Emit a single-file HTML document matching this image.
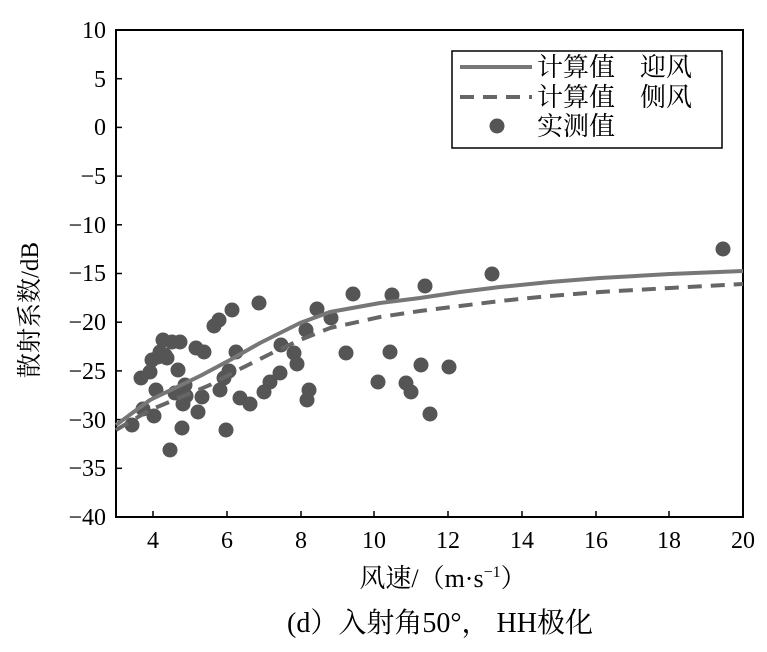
<!DOCTYPE html>
<html><head><meta charset="utf-8"><style>body{margin:0;background:#fff}</style></head><body>
<svg width="767" height="647" xmlns="http://www.w3.org/2000/svg" font-family="Liberation Serif, Noto Serif CJK SC, serif">
<rect width="767" height="647" fill="#fff"/>
<g stroke="#000" stroke-width="2" fill="none">
<rect x="116" y="30" width="627" height="487"/>
</g>
<g stroke="#000" stroke-width="1.5">
<line x1="116" y1="30" x2="122" y2="30"/><line x1="116" y1="78.7" x2="122" y2="78.7"/><line x1="116" y1="127.4" x2="122" y2="127.4"/><line x1="116" y1="176.1" x2="122" y2="176.1"/><line x1="116" y1="224.8" x2="122" y2="224.8"/><line x1="116" y1="273.5" x2="122" y2="273.5"/><line x1="116" y1="322.2" x2="122" y2="322.2"/><line x1="116" y1="370.9" x2="122" y2="370.9"/><line x1="116" y1="419.6" x2="122" y2="419.6"/><line x1="116" y1="468.3" x2="122" y2="468.3"/>
<line x1="153" y1="517" x2="153" y2="511"/><line x1="227" y1="517" x2="227" y2="511"/><line x1="301" y1="517" x2="301" y2="511"/><line x1="374" y1="517" x2="374" y2="511"/><line x1="448" y1="517" x2="448" y2="511"/><line x1="522" y1="517" x2="522" y2="511"/><line x1="596" y1="517" x2="596" y2="511"/><line x1="669" y1="517" x2="669" y2="511"/>
</g>
<g font-size="24" text-anchor="end" fill="#000">
<text x="106" y="38">10</text><text x="106" y="87">5</text><text x="106" y="135">0</text><text x="106" y="184">−5</text><text x="106" y="233">−10</text><text x="106" y="281">−15</text><text x="106" y="330">−20</text><text x="106" y="379">−25</text><text x="106" y="428">−30</text><text x="106" y="476">−35</text><text x="106" y="525">−40</text>
</g>
<g font-size="24" text-anchor="middle" fill="#000">
<text x="153" y="548">4</text><text x="227" y="548">6</text><text x="301" y="548">8</text><text x="374" y="548">10</text><text x="448" y="548">12</text><text x="522" y="548">14</text><text x="596" y="548">16</text><text x="669" y="548">18</text><text x="743" y="548">20</text>
<text x="443" y="587" font-size="26">风速/（m·s<tspan font-size="16" dy="-10">−1</tspan><tspan dy="10">）</tspan></text>
<text x="440" y="632" font-size="28">(d）入射角50°， HH极化</text>
</g>
<text transform="translate(38,310) rotate(-90)" font-size="25" text-anchor="middle">散射系数/dB</text>
<g fill="#555">
<circle cx="132" cy="425" r="7.5"/><circle cx="141" cy="378" r="7.5"/><circle cx="143" cy="409" r="7.5"/><circle cx="150" cy="372" r="7.5"/><circle cx="152" cy="360" r="7.5"/><circle cx="154" cy="416" r="7.5"/><circle cx="156" cy="390" r="7.5"/><circle cx="158" cy="357" r="7.5"/><circle cx="160" cy="352" r="7.5"/><circle cx="163" cy="340" r="7.5"/><circle cx="165" cy="355" r="7.5"/><circle cx="167" cy="358" r="7.5"/><circle cx="172" cy="342" r="7.5"/><circle cx="175" cy="393" r="7.5"/><circle cx="178" cy="370" r="7.5"/><circle cx="180" cy="342" r="7.5"/><circle cx="182" cy="428" r="7.5"/><circle cx="170" cy="450" r="7.5"/><circle cx="183" cy="404" r="7.5"/><circle cx="185" cy="385" r="7.5"/><circle cx="186" cy="396" r="7.5"/><circle cx="196" cy="348" r="7.5"/><circle cx="198" cy="412" r="7.5"/><circle cx="202" cy="397" r="7.5"/><circle cx="204" cy="352" r="7.5"/><circle cx="214" cy="326" r="7.5"/><circle cx="219" cy="320" r="7.5"/><circle cx="220" cy="390" r="7.5"/><circle cx="224" cy="378" r="7.5"/><circle cx="226" cy="430" r="7.5"/><circle cx="229" cy="371" r="7.5"/><circle cx="232" cy="310" r="7.5"/><circle cx="236" cy="352" r="7.5"/><circle cx="240" cy="398" r="7.5"/><circle cx="250" cy="404" r="7.5"/><circle cx="259" cy="303" r="7.5"/><circle cx="264" cy="392" r="7.5"/><circle cx="270" cy="382" r="7.5"/><circle cx="280" cy="373" r="7.5"/><circle cx="281" cy="345" r="7.5"/><circle cx="294" cy="353" r="7.5"/><circle cx="297" cy="364" r="7.5"/><circle cx="306" cy="330" r="7.5"/><circle cx="307" cy="400" r="7.5"/><circle cx="309" cy="390" r="7.5"/><circle cx="317" cy="309" r="7.5"/><circle cx="331" cy="318" r="7.5"/><circle cx="346" cy="353" r="7.5"/><circle cx="353" cy="294" r="7.5"/><circle cx="378" cy="382" r="7.5"/><circle cx="392" cy="295" r="7.5"/><circle cx="390" cy="352" r="7.5"/><circle cx="406" cy="383" r="7.5"/><circle cx="411" cy="392" r="7.5"/><circle cx="421" cy="365" r="7.5"/><circle cx="425" cy="286" r="7.5"/><circle cx="430" cy="414" r="7.5"/><circle cx="449" cy="367" r="7.5"/><circle cx="492" cy="274" r="7.5"/><circle cx="723" cy="249" r="7.5"/>
</g>
<path d="M116,425 L150,400 L200,376 L230,360 L260,343 L300,323 L330,312 L380,303 L420,298 L460,292 L500,287 L550,282 L600,278 L670,274 L743,271" fill="none" stroke="#777" stroke-width="4" stroke-linejoin="round"/>
<path d="M116,430 L150,410 L210,385 L240,369 L270,354 L300,340 L330,328 L380,317 L420,311 L460,306 L500,301 L550,296 L600,292 L670,288 L743,284" fill="none" stroke="#666" stroke-width="4" stroke-dasharray="14,9"/>
<rect x="452" y="51" width="270" height="97" fill="#fff" stroke="#000" stroke-width="1.5"/>
<line x1="460" y1="67" x2="532" y2="67" stroke="#777" stroke-width="4"/>
<line x1="460" y1="97" x2="532" y2="97" stroke="#666" stroke-width="4" stroke-dasharray="14,9"/>
<circle cx="497" cy="126" r="7.5" fill="#555"/>
<g font-size="26" fill="#000">
<text x="537" y="76">计算值</text><text x="640" y="76">迎风</text>
<text x="537" y="106">计算值</text><text x="640" y="106">侧风</text>
<text x="537" y="135">实测值</text>
</g>
</svg>
</body></html>
